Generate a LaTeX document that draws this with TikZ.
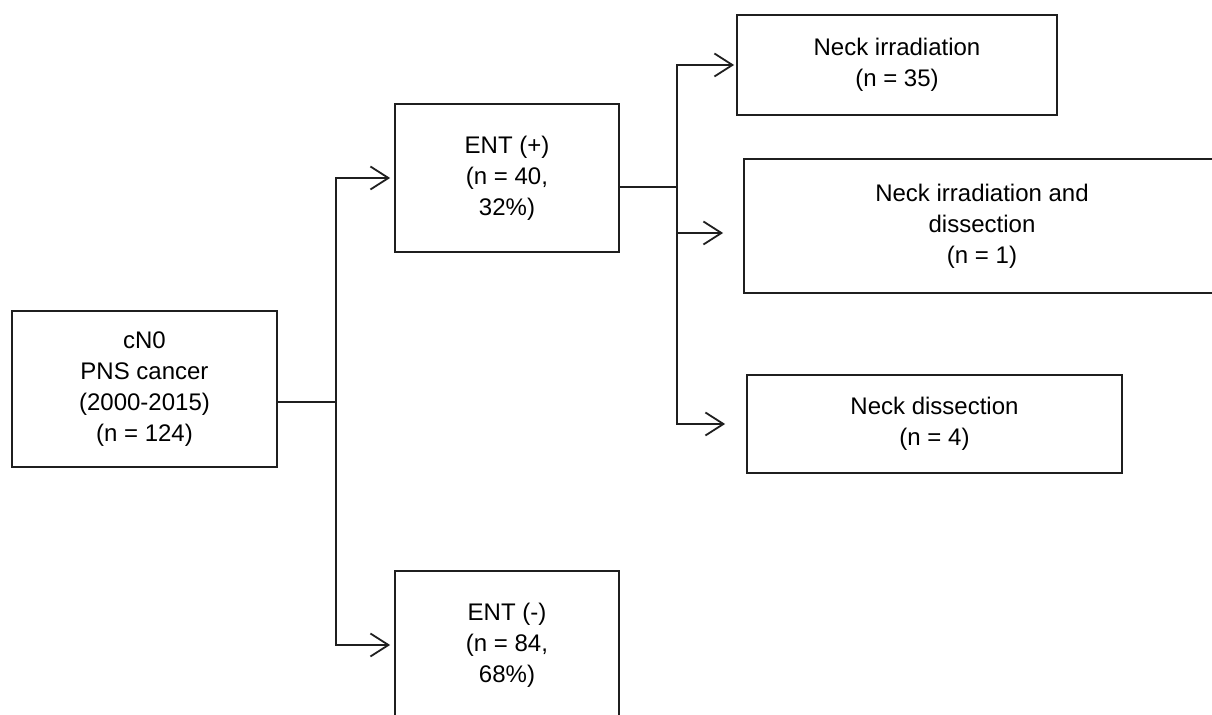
\documentclass[tikz,border=0pt]{standalone}
\usepackage{fontspec}
\setmainfont{Liberation Sans}
\usetikzlibrary{arrows.meta, calc}

\begin{document}
\begin{tikzpicture}[x=0.5pt, y=-0.5pt, line cap=butt, line join=miter,
  font=\fontsize{12}{15.5}\selectfont,
  box/.style={draw=black!88, line width=0.9pt, inner sep=0pt, align=center},
  link/.style={draw=black!88, line width=0.9pt},
  arr/.style={link, -{Straight Barb[length=9pt, width=11.5pt]}, shorten >=2pt}]
\clip (0,0) rectangle (1212,715);
\useasboundingbox (0,0) rectangle (1212,715);

%========================
% boxes
%========================
\node[box, minimum width=132.5pt, minimum height=78pt] (cnz) at (144.5,389)
  {cN0\\PNS cancer\\(2000-2015)\\(n = 124)};
\node[box, minimum width=112pt, minimum height=74pt] (entp) at (507,178)
  {ENT (+)\\(n = 40,\\32\%)};
\node[box, minimum width=112pt, minimum height=74pt] (entm) at (507,645)
  {ENT (-)\\(n = 84,\\68\%)};

\node[box, minimum width=160pt, minimum height=50pt] (nirr) at (897,65)
  {Neck irradiation\\(n = 35)};
\node[box, minimum width=238pt, minimum height=67pt] (nirrdis) at (982,226)
  {Neck irradiation and\\dissection\\(n = 1)};
\node[box, minimum width=187.5pt, minimum height=49pt] (ndis) at (934.5,424)
  {Neck dissection\\(n = 4)};

%========================
% connectors
%========================
\coordinate (j1) at (336,402);
\coordinate (j2) at (677,187);

\draw[link] (cnz.east |- j1) -- (j1);
\draw[arr] (j1) |- (entp.west);
\draw[arr] (j1) |- (entm.west);

\draw[link] (entp.east |- j2) -- (j2);
\draw[arr, shorten >=1pt] (j2) |- (nirr.west);
\draw[arr, shorten >=10pt] (j2) |- ([yshift=-3.5pt]nirrdis.west);
\draw[arr, shorten >=10.5pt] (j2) |- (ndis.west);
\end{tikzpicture}
\end{document}
